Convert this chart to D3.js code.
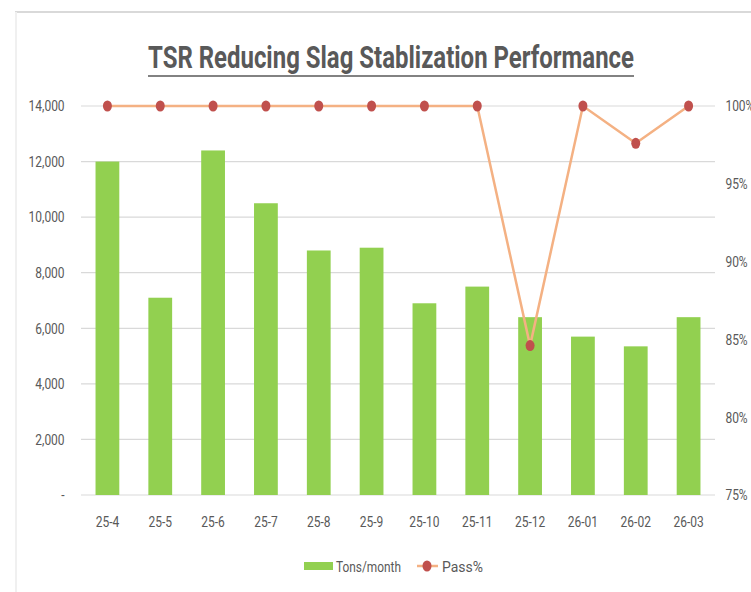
<!DOCTYPE html>
<html>
<head>
<meta charset="utf-8">
<script src="https://cdn.jsdelivr.net/npm/d3@7"></script>
<style>
  body { margin: 0; background: #fff; }
  text { font-family: "Roboto", "Liberation Sans", sans-serif; fill: #595959; }
</style>
</head>
<body>
<script>
// chart data
const months = ["25-4", "25-5", "25-6", "25-7", "25-8", "25-9", "25-10", "25-11", "25-12", "26-01", "26-02", "26-03"];
const tons = [12000, 7100, 12400, 10500, 8800, 8900, 6900, 7500, 6400, 5700, 5350, 6400];
const passPct = [100, 100, 100, 100, 100, 100, 100, 100, 84.6, 100, 97.6, 100];
const leftTicks = [0, 2000, 4000, 6000, 8000, 10000, 12000, 14000];
const rightTicks = [75, 80, 85, 90, 95, 100];

const width = 751, height = 592;
const margin = {left: 81, right: 36, top: 106, bottom: 97};
const squeeze = "scale(0.8,1)";   // narrow look, like Calibri

const svg = d3.select("body").append("svg")
    .attr("width", width)
    .attr("height", height);

// frame of the pasted chart
svg.append("line").attr("x1", 15).attr("x2", width).attr("y1", 12).attr("y2", 12)
    .attr("stroke", "#d9d9d9").attr("stroke-width", 2);
svg.append("line").attr("x1", 16).attr("x2", 16).attr("y1", 12).attr("y2", height)
    .attr("stroke", "#f0f0f0").attr("stroke-width", 2);

const x = d3.scaleBand()
    .domain(months)
    .range([margin.left, width - margin.right])
    .paddingInner(0.55)
    .paddingOuter(0.275);

const y = d3.scaleLinear()
    .domain([0, 14000])
    .range([height - margin.bottom, margin.top]);

const y2 = d3.scaleLinear()
    .domain([75, 100])
    .range([height - margin.bottom, margin.top]);

// gridlines
svg.append("g")
    .selectAll("line")
    .data(leftTicks)
    .join("line")
    .attr("x1", margin.left)
    .attr("x2", width - margin.right)
    .attr("y1", d => y(d))
    .attr("y2", d => y(d))
    .attr("stroke", "#d9d9d9")
    .attr("stroke-width", 1.2);

function styleAxis(g, size) {
    g.select(".domain").remove();
    g.selectAll("text")
        .attr("font-size", size)
        .attr("fill", "#595959")
        .attr("font-family", "Roboto, sans-serif")
        .attr("transform", squeeze);
}

// left axis
svg.append("g")
    .attr("transform", `translate(${margin.left - 14},0)`)
    .call(d3.axisLeft(y).tickValues(leftTicks).tickSize(0)
        .tickFormat(d => d === 0 ? "-" : d3.format(",")(d)))
    .call(g => styleAxis(g, 15));

// right axis
svg.append("g")
    .attr("transform", `translate(${width - margin.right + 8},0)`)
    .call(d3.axisRight(y2).tickValues(rightTicks).tickSize(0).tickFormat(d => d + "%"))
    .call(g => styleAxis(g, 15));

// bottom axis labels
svg.append("g")
    .attr("transform", `translate(0,${height - margin.bottom + 18})`)
    .call(d3.axisBottom(x).tickSize(0))
    .call(g => styleAxis(g, 15));

// bars
svg.append("g")
    .attr("fill", "#92d050")
    .selectAll("rect")
    .data(months)
    .join("rect")
    .attr("x", d => x(d))
    .attr("width", x.bandwidth())
    .attr("y", (d, i) => y(tons[i]))
    .attr("height", (d, i) => y(0) - y(tons[i]));

// pass% line
const line = d3.line()
    .x((d, i) => x(months[i]) + x.bandwidth() / 2)
    .y(d => y2(d));

svg.append("path")
    .datum(passPct)
    .attr("fill", "none")
    .attr("stroke", "#f4b183")
    .attr("stroke-width", 2.5)
    .attr("d", line);

svg.append("g")
    .attr("fill", "#c0504d")
    .selectAll("ellipse")
    .data(passPct)
    .join("ellipse")
    .attr("cx", (d, i) => x(months[i]) + x.bandwidth() / 2)
    .attr("cy", d => y2(d))
    .attr("rx", 4.5)
    .attr("ry", 5.5);

// title
svg.append("text")
    .attr("x", 391)
    .attr("y", 68)
    .attr("text-anchor", "middle")
    .attr("font-size", 31)
    .attr("font-weight", "bold")
    .attr("textLength", 486)
    .attr("lengthAdjust", "spacingAndGlyphs")
    .text("TSR Reducing Slag Stablization Performance");
svg.append("line")
    .attr("x1", 148).attr("x2", 634)
    .attr("y1", 76).attr("y2", 76)
    .attr("stroke", "#595959").attr("stroke-width", 1.5);

// legend
const legend = svg.append("g");
legend.append("rect")
    .attr("x", 304).attr("y", 562)
    .attr("width", 29).attr("height", 8)
    .attr("fill", "#92d050");
legend.append("text")
    .attr("x", 336).attr("y", 572)
    .attr("font-size", 15)
    .attr("textLength", 65)
    .attr("lengthAdjust", "spacingAndGlyphs")
    .text("Tons/month");
legend.append("line")
    .attr("x1", 417).attr("x2", 438)
    .attr("y1", 566).attr("y2", 566)
    .attr("stroke", "#f4b183").attr("stroke-width", 2.5);
legend.append("ellipse")
    .attr("cx", 427).attr("cy", 566)
    .attr("rx", 4.5).attr("ry", 5.5)
    .attr("fill", "#c0504d");
legend.append("text")
    .attr("x", 442).attr("y", 572)
    .attr("font-size", 15)
    .attr("textLength", 41)
    .attr("lengthAdjust", "spacingAndGlyphs")
    .text("Pass%");
</script>
</body>
</html>
